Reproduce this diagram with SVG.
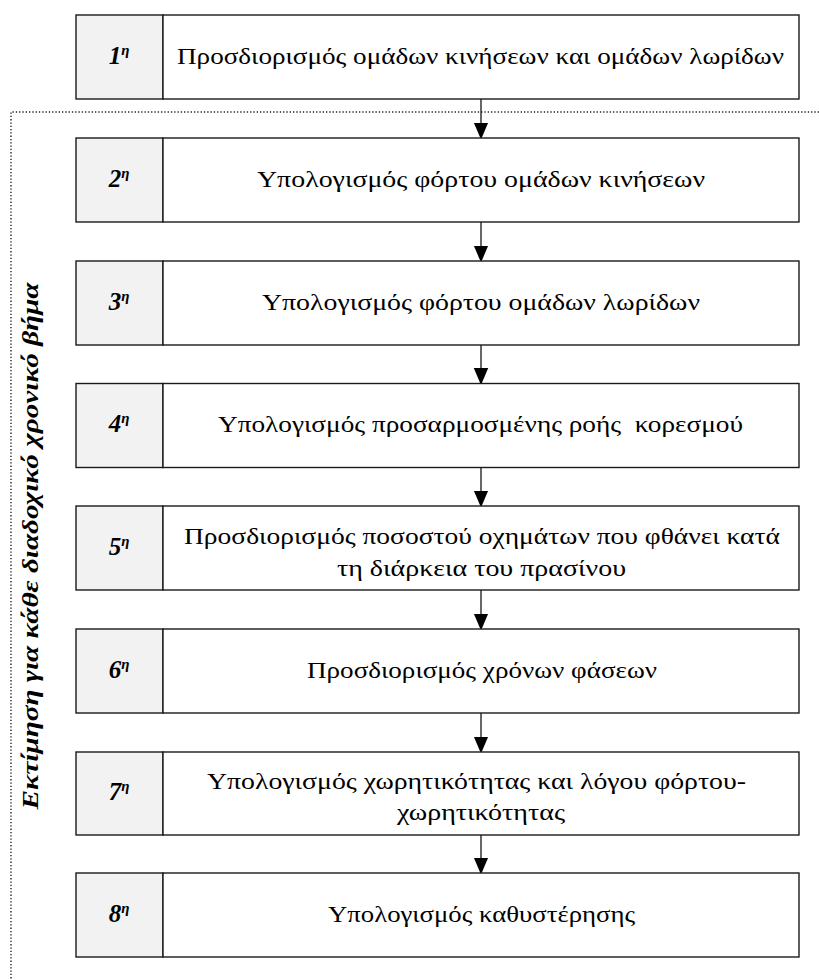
<svg xmlns="http://www.w3.org/2000/svg" width="819" height="980" viewBox="0 0 819 980">
<style>
.num{fill:#f2f2f2;stroke:#1a1a1a;stroke-width:1.4}
.box{fill:#fff;stroke:#1a1a1a;stroke-width:1.4}
.t{font-family:"Liberation Serif","DejaVu Serif",serif;font-size:23px;fill:#000}
.n{font-family:"Liberation Serif","DejaVu Serif",serif;font-size:25px;font-weight:bold;font-style:italic;fill:#000}
.sup{font-size:15px}
.v{font-family:"Liberation Serif","DejaVu Serif",serif;font-size:24px;font-weight:bold;font-style:italic;fill:#000}
.con{stroke:#000;stroke-width:1.2;fill:none}
.dot{stroke:#222;stroke-width:1.4;stroke-dasharray:1.3 2;fill:none}
</style>
<defs>
<marker id="ah" markerWidth="17" markerHeight="20" refX="17" refY="8.5" orient="auto" markerUnits="userSpaceOnUse" viewBox="0 0 20 17">
<path d="M0,0 L20,8.5 L0,17 Z" fill="#000"/>
</marker>
</defs>
<rect width="819" height="980" fill="#fff"/>
<g id="frame">
<path class="dot" d="M819,112 H11 V980"/>
<text class="v" transform="translate(38,546) rotate(-90)" text-anchor="middle" textLength="527" lengthAdjust="spacingAndGlyphs">Εκτίμηση για κάθε διαδοχικό χρονικό βήμα</text>
</g>
<g id="connectors">
<path class="con" d="M481,99 V137" marker-end="url(#ah)"/>
<path class="con" d="M481,222 V260" marker-end="url(#ah)"/>
<path class="con" d="M481,345 V382.5" marker-end="url(#ah)"/>
<path class="con" d="M481,467.5 V505" marker-end="url(#ah)"/>
<path class="con" d="M481,590 V628" marker-end="url(#ah)"/>
<path class="con" d="M481,713 V751" marker-end="url(#ah)"/>
<path class="con" d="M481,835 V872" marker-end="url(#ah)"/>
</g>
<g id="step1">
<rect class="num" x="76" y="15" width="87" height="84"/>
<rect class="box" x="163" y="15" width="636" height="84"/>
<text class="n" x="119" y="64" text-anchor="middle">1<tspan class="sup" dy="-9">η</tspan></text>
<text class="t" x="480.5" y="64" text-anchor="middle" textLength="607" lengthAdjust="spacingAndGlyphs">Προσδιορισμός ομάδων κινήσεων και ομάδων λωρίδων</text>
</g>
<g id="step2">
<rect class="num" x="76" y="138" width="87" height="84"/>
<rect class="box" x="163" y="138" width="636" height="84"/>
<text class="n" x="119" y="187" text-anchor="middle">2<tspan class="sup" dy="-9">η</tspan></text>
<text class="t" x="481" y="187" text-anchor="middle" textLength="448" lengthAdjust="spacingAndGlyphs">Υπολογισμός φόρτου ομάδων κινήσεων</text>
</g>
<g id="step3">
<rect class="num" x="76" y="261" width="87" height="84"/>
<rect class="box" x="163" y="261" width="636" height="84"/>
<text class="n" x="119" y="310" text-anchor="middle">3<tspan class="sup" dy="-9">η</tspan></text>
<text class="t" x="481" y="310" text-anchor="middle" textLength="438" lengthAdjust="spacingAndGlyphs">Υπολογισμός φόρτου ομάδων λωρίδων</text>
</g>
<g id="step4">
<rect class="num" x="76" y="383.5" width="87" height="84"/>
<rect class="box" x="163" y="383.5" width="636" height="84"/>
<text class="n" x="119" y="432" text-anchor="middle">4<tspan class="sup" dy="-9">η</tspan></text>
<text class="t" x="480.5" y="432" text-anchor="middle" textLength="525" lengthAdjust="spacingAndGlyphs" xml:space="preserve">Υπολογισμός προσαρμοσμένης ροής  κορεσμού</text>
</g>
<g id="step5">
<rect class="num" x="76" y="506" width="87" height="84"/>
<rect class="box" x="163" y="506" width="636" height="84"/>
<text class="n" x="119" y="555" text-anchor="middle">5<tspan class="sup" dy="-9">η</tspan></text>
<text class="t" x="482" y="544" text-anchor="middle" textLength="596" lengthAdjust="spacingAndGlyphs">Προσδιορισμός ποσοστού οχημάτων που φθάνει κατά</text>
<text class="t" x="481.5" y="576" text-anchor="middle" textLength="289" lengthAdjust="spacingAndGlyphs">τη διάρκεια του πρασίνου</text>
</g>
<g id="step6">
<rect class="num" x="76" y="629" width="87" height="84"/>
<rect class="box" x="163" y="629" width="636" height="84"/>
<text class="n" x="119" y="678" text-anchor="middle">6<tspan class="sup" dy="-9">η</tspan></text>
<text class="t" x="482" y="678" text-anchor="middle" textLength="350" lengthAdjust="spacingAndGlyphs">Προσδιορισμός χρόνων φάσεων</text>
</g>
<g id="step7">
<rect class="num" x="76" y="752" width="87" height="83"/>
<rect class="box" x="163" y="752" width="636" height="83"/>
<text class="n" x="119" y="800" text-anchor="middle">7<tspan class="sup" dy="-9">η</tspan></text>
<text class="t" x="476.5" y="789" text-anchor="middle" textLength="539" lengthAdjust="spacingAndGlyphs">Υπολογισμός χωρητικότητας και λόγου φόρτου-</text>
<text class="t" x="481" y="820" text-anchor="middle" textLength="168" lengthAdjust="spacingAndGlyphs">χωρητικότητας</text>
</g>
<g id="step8">
<rect class="num" x="76" y="873" width="87" height="84"/>
<rect class="box" x="163" y="873" width="636" height="84"/>
<text class="n" x="119" y="922" text-anchor="middle">8<tspan class="sup" dy="-9">η</tspan></text>
<text class="t" x="481.5" y="922" text-anchor="middle" textLength="307" lengthAdjust="spacingAndGlyphs">Υπολογισμός καθυστέρησης</text>
</g>
</svg>
